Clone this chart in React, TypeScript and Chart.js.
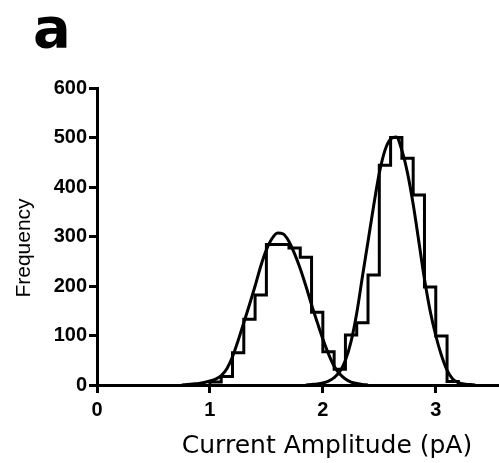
import React, { useEffect, useRef } from "react";
import { Chart, registerables } from "chart.js";

Chart.register(...registerables);

// ---- data ----
const panelLabel = "a";
const xTitle = "Current Amplitude (pA)";
const yTitle = "Frequency";

const xTicks = [0, 1, 2, 3];
const yTicks = [0, 100, 200, 300, 400, 500, 600];

const binWidth = 0.1;
const binStarts = [
  1.0, 1.1, 1.2, 1.3, 1.4, 1.5, 1.6, 1.7, 1.8, 1.9, 2.0,
  2.1, 2.2, 2.3, 2.4, 2.5, 2.6, 2.7, 2.8, 2.9, 3.0, 3.1,
];
const binCounts = [
  6, 17, 65, 133, 182, 284, 284, 277, 258, 147, 67,
  32, 101, 126, 222, 444, 500, 458, 384, 198, 99, 7,
];

const fit1X = [
  0.75, 0.8, 0.85, 0.9, 0.95, 1.0, 1.05, 1.1, 1.15, 1.2, 1.25, 1.3, 1.35,
  1.4, 1.45, 1.5, 1.55, 1.6, 1.65, 1.7, 1.75, 1.8, 1.85, 1.9, 1.95, 2.0,
  2.05, 2.1, 2.15, 2.2, 2.25, 2.3, 2.35, 2.4,
];
const fit1Y = [
  0, 1, 2, 3, 5, 8, 12, 19, 33, 57, 90, 126, 162,
  200, 240, 273, 296, 307, 305, 290, 265, 235, 200, 162, 127, 93,
  63, 38, 22, 12, 6, 3, 1, 0,
];

const fit2X = [
  1.85, 1.9, 1.95, 2.0, 2.05, 2.1, 2.15, 2.2, 2.25, 2.3, 2.35, 2.4, 2.45,
  2.5, 2.55, 2.6, 2.65, 2.7, 2.75, 2.8, 2.85, 2.9, 2.95, 3.0, 3.05, 3.1,
  3.15, 3.2, 3.25, 3.3, 3.35,
];
const fit2Y = [
  0, 1, 2, 4, 8, 15, 27, 50, 88, 145, 218, 290, 362,
  428, 474, 497, 501, 474, 428, 365, 290, 214, 150, 100, 60, 30,
  12, 5, 2, 1, 0,
];

const xMin = 0;
const xMax = 3.56;
const yMin = 0;
const yMax = 600;

// ---- build the library's tables ----
const lastIdx = binStarts.length - 1;
const histPoints = [
  { x: binStarts[0], y: 0 },
  ...binStarts.map((s, i) => ({ x: s, y: binCounts[i] })),
  { x: +(binStarts[lastIdx] + binWidth).toFixed(3), y: 0 },
];
const fit1Points = fit1X.map((x, i) => ({ x, y: fit1Y[i] }));
const fit2Points = fit2X.map((x, i) => ({ x, y: fit2Y[i] }));

const INK = "#000000";

const textPlugin = {
  id: "panelTexts",
  afterDraw(chart: any) {
    const ctx = chart.ctx as CanvasRenderingContext2D;
    const area = chart.chartArea;
    ctx.save();
    ctx.fillStyle = INK;

    ctx.font = 'bold 56px "DejaVu Sans"';
    ctx.textAlign = "left";
    ctx.textBaseline = "alphabetic";
    ctx.fillText(panelLabel, 33, 47);

    ctx.font = '25px "DejaVu Sans"';
    ctx.textAlign = "center";
    ctx.textBaseline = "alphabetic";
    ctx.fillText(xTitle, area.left + 230, 453);

    ctx.translate(24, area.top + 160);
    ctx.rotate(-Math.PI / 2);
    ctx.font = '21px "Liberation Sans", Arial, sans-serif';
    ctx.textAlign = "center";
    ctx.textBaseline = "middle";
    ctx.fillText(yTitle, 0, 0);
    ctx.restore();
  },
};

export default function App() {
  const canvasRef = useRef<HTMLCanvasElement | null>(null);

  useEffect(() => {
    if (!canvasRef.current) return;
    const tickFont = { family: '"Liberation Sans", Arial, sans-serif', size: 20, weight: "bold" as const };
    const chart = new Chart(canvasRef.current, {
      type: "line",
      data: {
        datasets: [
          {
            label: "histogram",
            data: histPoints,
            stepped: true,
            borderColor: INK,
            borderWidth: 3,
            pointRadius: 0,
            fill: false,
            tension: 0,
          },
          {
            label: "fit 1",
            data: fit1Points,
            borderColor: INK,
            borderWidth: 3,
            pointRadius: 0,
            fill: false,
            cubicInterpolationMode: "monotone",
          },
          {
            label: "fit 2",
            data: fit2Points,
            borderColor: INK,
            borderWidth: 3,
            pointRadius: 0,
            fill: false,
            cubicInterpolationMode: "monotone",
          },
        ],
      },
      options: {
        animation: false,
        responsive: false,
        maintainAspectRatio: false,
        layout: { padding: { left: 0, right: 0, top: 88, bottom: 0 } },
        plugins: {
          legend: { display: false },
          tooltip: { enabled: false },
          title: { display: false },
        },
        scales: {
          x: {
            type: "linear",
            min: xMin,
            max: xMax,
            afterBuildTicks: (scale: any) => {
              scale.ticks = xTicks.map((v) => ({ value: v }));
            },
            afterFit: (scale: any) => {
              scale.height = 78;
            },
            border: { display: true, color: INK, width: 3 },
            grid: {
              display: true,
              drawOnChartArea: false,
              drawTicks: true,
              tickLength: 8,
              tickWidth: 3,
              tickColor: INK,
              color: INK,
            },
            ticks: {
              color: INK,
              font: tickFont,
              padding: 5,
              maxRotation: 0,
              autoSkip: false,
              callback: (v: any) => String(v),
            },
          },
          y: {
            type: "linear",
            min: yMin,
            max: yMax,
            afterBuildTicks: (scale: any) => {
              scale.ticks = yTicks.map((v) => ({ value: v }));
            },
            afterFit: (scale: any) => {
              scale.width = 97;
            },
            border: { display: true, color: INK, width: 3 },
            grid: {
              display: true,
              drawOnChartArea: false,
              drawTicks: true,
              tickLength: 8,
              tickWidth: 3,
              tickColor: INK,
              color: INK,
            },
            ticks: {
              color: INK,
              font: tickFont,
              padding: 2,
              autoSkip: false,
              callback: (v: any) => String(v),
            },
          },
        },
      },
      plugins: [textPlugin],
    });
    return () => chart.destroy();
  }, []);

  return (
    <div style={{ position: "absolute", left: 0, top: 0, width: 499, height: 463, background: "#fff" }}>
      <canvas ref={canvasRef} width={499} height={463} style={{ display: "block" }} />
    </div>
  );
}
